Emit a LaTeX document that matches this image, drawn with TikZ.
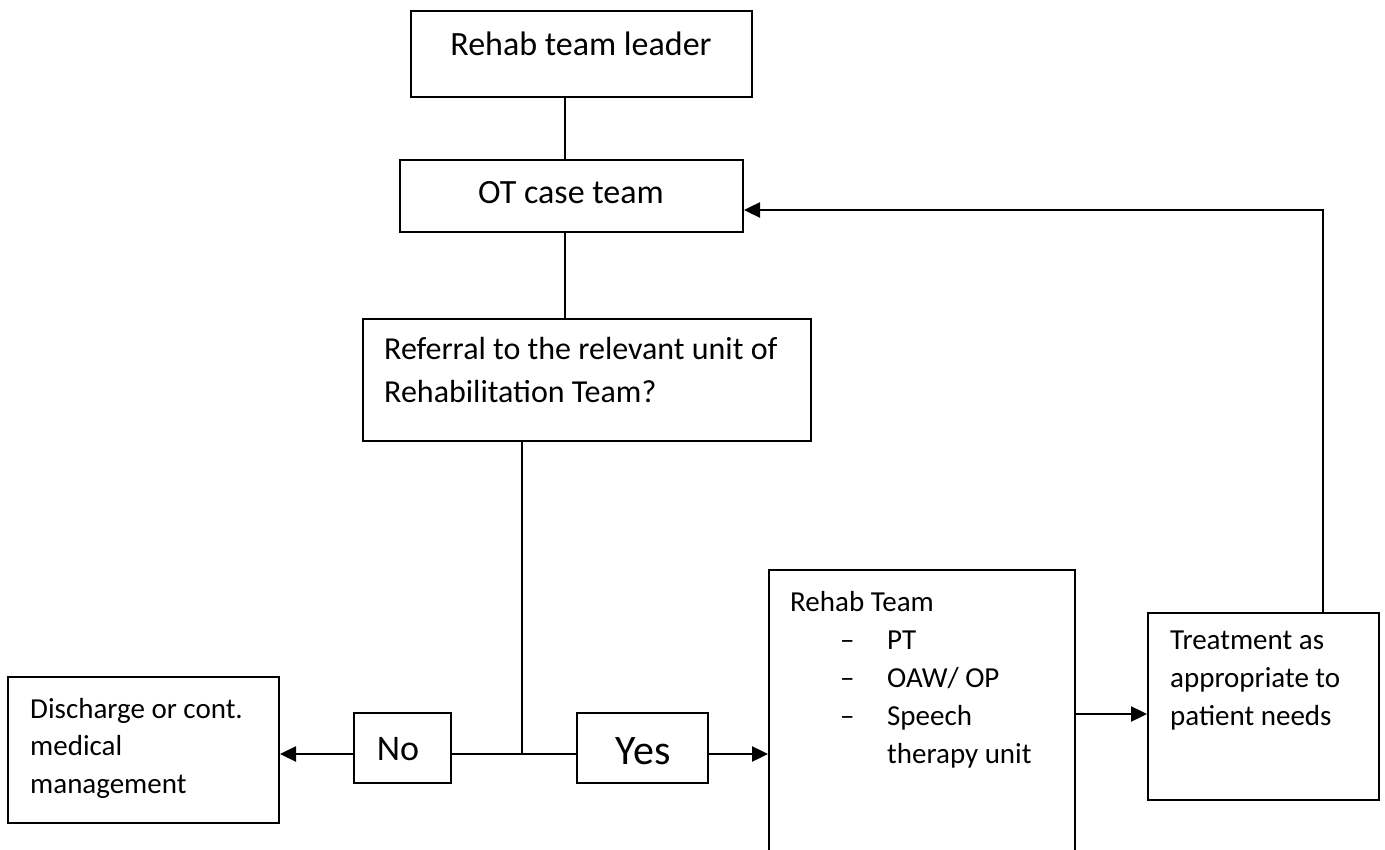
\documentclass[tikz,border=0pt]{standalone}
\usepackage{fontspec}
\setmainfont{Carlito}
\usetikzlibrary{arrows.meta,calc}

\begin{document}
\begin{tikzpicture}[x=1pt,y=-1pt,
  box/.style={draw,line width=2pt,inner sep=0pt},
  wire/.style={line width=1.5pt},
  flow/.style={line width=2.4pt,-{Triangle[length=16pt,width=15pt]}},
  txt/.style={inner sep=0pt,align=left,anchor=north west}]
\useasboundingbox (0,0) rectangle (1385,850);
\node[box,minimum width=341,minimum height=86] (lead) at (581.5,54) {};
\node[box,minimum width=343,minimum height=72] (ot) at (571.5,196) {};
\node[box,minimum width=448,minimum height=122] (ref) at (587,380) {};
\node[box,minimum width=271,minimum height=146] (dis) at (143.5,750) {};
\node[box,minimum width=97,minimum height=70] (no) at (402.5,748) {};
\node[box,minimum width=131,minimum height=70] (yes) at (642.5,748) {};
\node[box,minimum width=306,minimum height=300] (team) at (922,720) {};
\node[box,minimum width=231,minimum height=187] (treat) at (1263.5,706.5) {};
\node[inner sep=0pt,anchor=base,font=\fontsize{34}{40}\selectfont] (leadT) at (581,56) {Rehab team leader};
\node[inner sep=0pt,anchor=base,font=\fontsize{34}{40}\selectfont] (otT) at (571,204) {OT case team};
\node[txt,font=\fontsize{32}{43}\selectfont] (refT) at (384,337) {Referral to the relevant unit of\\Rehabilitation Team?};
\node[txt,font=\fontsize{29}{37.5}\selectfont] (disT) at (30,698) {Discharge or cont.\\medical\\management};
\node[inner sep=0pt,anchor=base,font=\fontsize{36}{40}\selectfont] (noT) at (398,760) {No};
\node[inner sep=0pt,anchor=base,font=\fontsize{42}{46}\selectfont] (yesT) at (643,764) {Yes};
\node[txt,font=\fontsize{29}{38}\selectfont] (teamT) at (790,591) {Rehab Team\\
  \hspace*{50pt}\makebox[47pt][l]{--}PT\\
  \hspace*{50pt}\makebox[47pt][l]{--}OAW/ OP\\
  \hspace*{50pt}\makebox[47pt][l]{--}Speech\\
  \hspace*{97pt}therapy unit};
\node[txt,font=\fontsize{29}{38}\selectfont] (treatT) at (1170,631) {Treatment as\\appropriate to\\patient needs};
\coordinate (sp) at (565,0);
\coordinate (jn) at (522,754);
\coordinate (fb) at (1323,210);
\coordinate (tr) at ([yshift=-7.5pt]treat.west);
\draw[wire] (lead.south -| sp) -- (ot.north -| sp);
\draw[wire] (ot.south -| sp) -- (ref.north -| sp);
\draw[wire] (ref.south -| jn) -- (jn);
\draw[wire] (no.east |- jn) -- (yes.west |- jn);
\draw[flow] (no.west |- jn) -- (dis.east |- jn);
\draw[flow] (yes.east |- jn) -- (team.west |- jn);
\draw[flow] (team.east |- tr) -- (tr);
\draw[flow] (treat.north -| fb) -- (fb) -- (fb -| ot.east);
\end{tikzpicture}
\end{document}
